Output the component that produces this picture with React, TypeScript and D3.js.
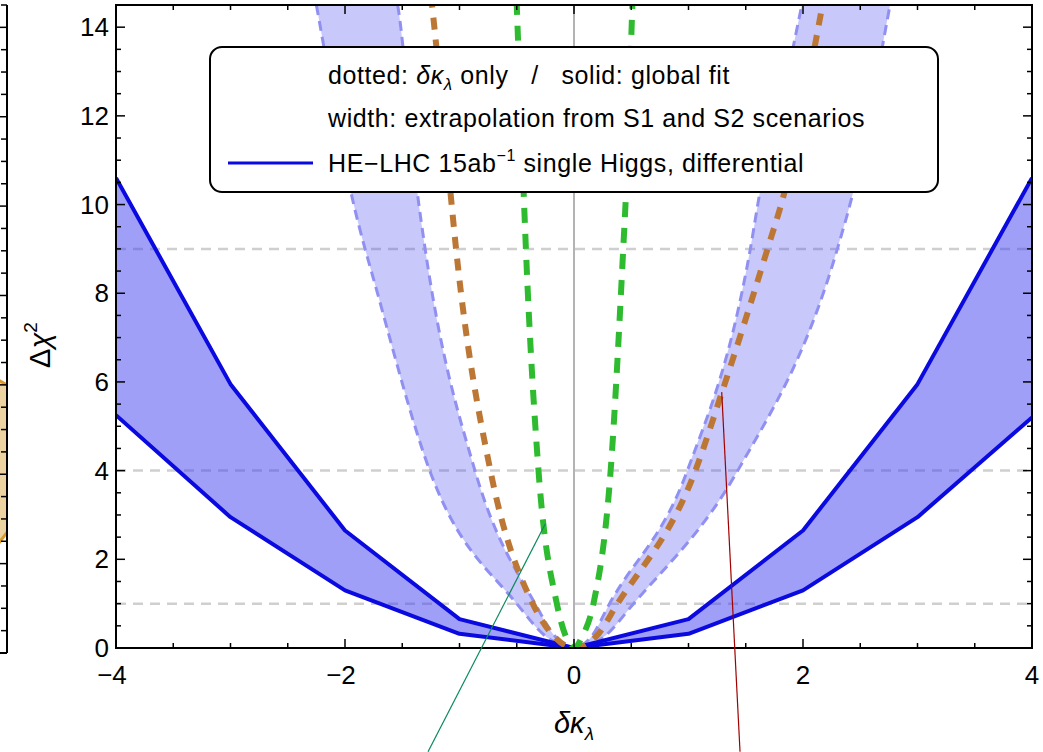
import React from 'react';
import * as d3 from 'd3';

// HE-LHC single Higgs, differential: band between S1/S2 extrapolations (global fit)
const darkUpper: [number, number][] = [[-4, 10.6], [-3, 5.95], [-2, 2.65], [-1, 0.65], [0, 0], [1, 0.65], [2, 2.65], [3, 5.95], [4, 10.6]];
const darkLower: [number, number][] = [[-4, 5.25], [-3, 2.95], [-2, 1.3], [-1, 0.32], [0, 0], [1, 0.32], [2, 1.3], [3, 2.95], [4, 5.2]];

// light band (dashed edges)
const lightInner: [number, number][] = [[-1.6, 15.2], [-1.54, 14.5], [-1.37, 10.3], [-1.3, 9], [-0.865, 4], [-0.34, 1], [-0.16, 0.25], [0, 0], [0.15, 0.25], [0.31, 1], [0.99, 4], [1.54, 9], [1.625, 10.3], [1.91, 13.5], [1.99, 14.5], [2.05, 15.2]];
const lightOuter: [number, number][] = [[-2.3, 15.2], [-2.25, 14.5], [-1.95, 10.3], [-1.7, 7.85], [-1.26, 4], [-0.5, 1], [-0.24, 0.25], [0, 0], [0.26, 0.25], [0.52, 1], [1.43, 4], [2.3, 9], [2.44, 10.3], [2.76, 14.5], [2.81, 15.2]];

// dotted: δκλ only
const brown: [number, number][] = [[-1.27, 15.2], [-1.24, 14.5], [-1.08, 10.3], [-1.03, 9], [-0.73, 4], [-0.36, 1], [-0.17, 0.25], [0, 0], [0.19, 0.25], [0.38, 1], [1.06, 4], [1.29, 5.75], [1.69, 9], [1.83, 10.2], [2.17, 14.5], [2.22, 15.2]];
const green: [number, number][] = [[-0.51, 15.2], [-0.5, 14.5], [-0.44, 10.3], [-0.42, 9], [-0.31, 4], [-0.15, 1], [-0.07, 0.25], [0, 0], [0.07, 0.25], [0.17, 1], [0.32, 4], [0.43, 9], [0.455, 10.3], [0.51, 14.5], [0.52, 15.2]];

const refLevels = [1, 4, 9];
const xMajor = [-4, -2, 0, 2, 4];
const yMajor = [0, 2, 4, 6, 8, 10, 12, 14];

// annotation strokes, in data units
const greenNote: [number, number][] = [[-0.25, 2.8], [-1.275, -2.34]];
const redNote: [number, number][] = [[1.29, 5.77], [1.45, -2.34]];

// sliver of the neighbouring panel at the left edge
const sideUpper: [number, number][] = [[3.8, 6.3], [3.9, 6.15], [4, 6.0]];
const sideLower: [number, number][] = [[3.8, 2.0], [3.9, 2.35], [4, 2.7]];

const W = 1043, H = 752;
const L = 116, R = 1032, T = 5, B = 648;

export default function App() {
  const x = d3.scaleLinear().domain([-4, 4]).range([L, R]);
  const y = d3.scaleLinear().domain([0, 14.5]).range([B, T]);
  const sx = d3.scaleLinear().domain([3.8, 4]).range([-17, 7]);
  const sy = d3.scaleLinear().domain([0, 14.5]).range([653, 5]);

  const line = d3.line<[number, number]>().x(d => x(d[0])).y(d => y(d[1])).curve(d3.curveMonotoneX);
  const straight = d3.line<[number, number]>().x(d => x(d[0])).y(d => y(d[1]));

  const bandPath = (a: [number, number][], b: [number, number][]) =>
    line(a)! + 'L' + line([...b].reverse())!.slice(1) + 'Z';

  const darkBand = straight(darkUpper)! + 'L' + straight([...darkLower].reverse())!.slice(1) + 'Z';

  const sideArea = d3.area<[number, number]>()
    .x(d => sx(d[0])).y0((d, i) => sy(sideLower[i][1])).y1(d => sy(d[1])).curve(d3.curveMonotoneX);
  const sideLine = d3.line<[number, number]>().x(d => sx(d[0])).y(d => sy(d[1])).curve(d3.curveMonotoneX);

  const minorX = d3.range(-4, 4.001, 0.5);
  const minorY = d3.range(0, 14.501, 0.5);
  const font = 'Liberation Sans, Arial, Helvetica, sans-serif';

  return (
    <svg width={W} height={H} style={{ position: 'absolute', left: 0, top: 0, background: '#fff' }} fontFamily={font}>
      <defs>
        <clipPath id="plot"><rect x={L} y={T} width={R - L} height={B - T} /></clipPath>
        <clipPath id="side"><rect x={0} y={5} width={7} height={648} /></clipPath>
      </defs>

      {/* neighbouring panel sliver */}
      <g clipPath="url(#side)">
        <path d={sideArea(sideUpper)!} fill="#e8c88a" opacity={0.8} />
        <path d={sideLine(sideUpper)!} fill="none" stroke="#d99a2b" strokeWidth={3} />
        <path d={sideLine(sideLower)!} fill="none" stroke="#d99a2b" strokeWidth={3} />
      </g>
      <line x1={7} x2={7} y1={5} y2={653} stroke="#000" strokeWidth={2} />
      <line x1={0} x2={7} y1={653} y2={653} stroke="#000" strokeWidth={2} />
      {minorY.map(v => (
        <line key={'s' + v} x1={7} x2={v % 2 === 0 ? -3 : 1} y1={sy(v)} y2={sy(v)} stroke="#000" strokeWidth={1.5} />
      ))}

      <g clipPath="url(#plot)">
        {refLevels.map(v => (
          <line key={v} x1={L} x2={R} y1={y(v)} y2={y(v)} stroke="#cfcfcf" strokeWidth={2.5} strokeDasharray="10 7" />
        ))}
        <path d={bandPath(lightInner, lightOuter)} fill="#4040f0" fillOpacity={0.29} />
        <path d={line(lightInner)!} fill="none" stroke="#9090f2" strokeWidth={3} strokeDasharray="10 6" />
        <path d={line(lightOuter)!} fill="none" stroke="#9090f2" strokeWidth={3} strokeDasharray="10 6" />
        <path d={darkBand} fill="#4040f0" fillOpacity={0.5} />
        <line x1={x(0)} x2={x(0)} y1={T} y2={B} stroke="#808080" strokeWidth={1.2} />
        <path d={straight(darkUpper)!} fill="none" stroke="#0a0ae0" strokeWidth={4} strokeLinejoin="round" />
        <path d={straight(darkLower)!} fill="none" stroke="#0a0ae0" strokeWidth={4} strokeLinejoin="round" />
        <path d={line(brown)!} fill="none" stroke="#bd7735" strokeWidth={6} strokeDasharray="12 10" />
        <path d={line(green)!} fill="none" stroke="#2fbb2f" strokeWidth={6} strokeDasharray="15 11" />
      </g>

      {/* frame and ticks */}
      <rect x={L} y={T} width={R - L} height={B - T} fill="none" stroke="#000" strokeWidth={2} />
      {minorX.map(v => {
        const len = xMajor.includes(v) ? 9 : 5;
        return (
          <g key={'x' + v}>
            <line x1={x(v)} x2={x(v)} y1={B} y2={B - len} stroke="#000" strokeWidth={1.5} />
            <line x1={x(v)} x2={x(v)} y1={T} y2={T + len} stroke="#000" strokeWidth={1.5} />
          </g>
        );
      })}
      {minorY.map(v => {
        const len = yMajor.includes(v) ? 9 : 5;
        return (
          <g key={'y' + v}>
            <line x1={L} x2={L + len} y1={y(v)} y2={y(v)} stroke="#000" strokeWidth={1.5} />
            <line x1={R} x2={R - len} y1={y(v)} y2={y(v)} stroke="#000" strokeWidth={1.5} />
          </g>
        );
      })}
      {xMajor.map(v => (
        <text key={'xl' + v} x={x(v) - (v < 0 ? 4 : 0)} y={B + 36} textAnchor="middle" fontSize={26}>
          {v < 0 ? '\u2212' + Math.abs(v) : v}
        </text>
      ))}
      {yMajor.map(v => (
        <text key={'yl' + v} x={L - 7} y={y(v) + 9} textAnchor="end" fontSize={26}>{v}</text>
      ))}

      {/* axis titles */}
      <text transform={`translate(50,${345}) rotate(-90)`} textAnchor="middle" fontSize={29}>
        Δ<tspan fontStyle="italic">χ</tspan><tspan fontSize={19} dy={-13}>2</tspan>
      </text>
      <text x={x(0)} y={733} textAnchor="middle" fontSize={29} fontStyle="italic">
        δκ<tspan fontSize={19} dy={7}>λ</tspan>
      </text>

      {/* legend */}
      <rect x={210} y={47} width={728} height={145} rx={12} fill="#fff" stroke="#000" strokeWidth={2} />
      <g fontSize={25} letterSpacing={0.6}>
        <text x={328} y={84}>
          dotted: <tspan fontStyle="italic">δκ</tspan><tspan fontStyle="italic" fontSize={17} dy={6}>λ</tspan><tspan dy={-6} xmlSpace="preserve"> only   /   solid: global fit</tspan>
        </text>
        <text x={328} y={127}>width: extrapolation from S1 and S2 scenarios</text>
        <text x={328} y={172}>
          HE−LHC 15ab<tspan fontSize={16} dy={-11}>−1</tspan><tspan dy={11}> single Higgs, differential</tspan>
        </text>
      </g>
      <line x1={228} x2={313} y1={163} y2={163} stroke="#0a0ae0" strokeWidth={3} />

      {/* annotation strokes */}
      <path d={straight(greenNote)!} stroke="#0a8a5a" strokeWidth={1.2} fill="none" />
      <path d={straight(redNote)!} stroke="#a00000" strokeWidth={1.2} fill="none" />
    </svg>
  );
}
